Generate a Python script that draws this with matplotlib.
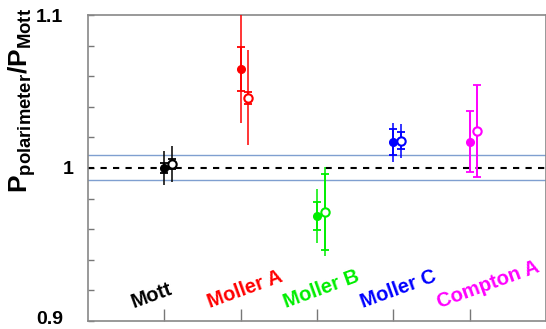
import matplotlib
matplotlib.use("Agg")
import matplotlib.pyplot as plt
from matplotlib.transforms import ScaledTranslation

categories = ["Mott", "Moller A", "Moller B", "Moller C", "Compton A"]
cat_colors = ["#000000", "#ff0000", "#00ee00", "#0000ff", "#ff00ff"]
positions = [1, 2, 3, 4, 5]

filled_vals = [1.000, 1.0647, 0.9686, 1.0168, 1.0172]
filled_stat = [0.003, 0.0145, 0.009, 0.0084, 0.020]
filled_tot = [0.011, 0.035, 0.0175, 0.0126, 0.020]

open_vals = [1.0026, 1.046, 0.9714, 1.0178, 1.0244]
open_stat = [0.003, 0.004, 0.025, 0.0056, 0.030]
open_tot = [0.0115, 0.031, 0.029, 0.011, 0.030]

band = [0.992, 1.0085]
ref_line = 1.0
ytick_vals = [0.9, 1.0, 1.1]
ytick_labels = ["0.9", "1", "1.1"]

plt.rcParams['font.family'] = ['Liberation Sans', 'DejaVu Sans']
plt.rcParams['mathtext.fontset'] = 'custom'
plt.rcParams['mathtext.bf'] = 'Liberation Sans:bold'
plt.rcParams['mathtext.rm'] = 'Liberation Sans:bold'

fig = plt.figure(figsize=(5.46, 3.29), dpi=100)
ax = fig.add_axes([88/546, 1 - 321/329, 1 - 88/546, (321 - 15)/329])
ax.set_xlim(0, 6)
ax.set_ylim(0.9, 1.1)

for v in band:
    ax.axhline(v, color="#7f9fd0", lw=1.0, zorder=1)
ax.axhline(ref_line, color="black", lw=1.5, ls=(0, (3, 3)), zorder=2)

off = 0.1
for i, p in enumerate(positions):
    c = cat_colors[i]
    # filled
    ax.errorbar(p, filled_vals[i], yerr=filled_tot[i], fmt='none', ecolor=c, elinewidth=1.3, alpha=0.85, zorder=3)
    ax.errorbar(p, filled_vals[i], yerr=filled_stat[i], fmt='none', ecolor=c, elinewidth=1.3, capsize=3, capthick=1.3, zorder=4)
    ax.plot(p, filled_vals[i], 'o', color=c, ms=5.5, zorder=5)
    # open
    po = p + off
    ax.errorbar(po, open_vals[i], yerr=open_tot[i], fmt='none', ecolor=c, elinewidth=1.3, alpha=0.85, zorder=3)
    ax.errorbar(po, open_vals[i], yerr=open_stat[i], fmt='none', ecolor=c, elinewidth=1.3, capsize=3, capthick=1.3, zorder=4)
    ax.plot(po, open_vals[i], 'o', mfc='white', mec=c, mew=1.5, ms=6, zorder=5)

for i, p in enumerate(positions):
    ax.text(p - 0.4, 0.9085, categories[i], color=cat_colors[i], fontsize=14.5, fontweight='bold',
            rotation=20, rotation_mode='anchor', ha='left', va='baseline', zorder=6)

for s in ax.spines.values():
    s.set_color("#888888")
    s.set_linewidth(1.2)

ax.set_xticks(positions)
ax.set_xticklabels([])
ax.tick_params(axis='x', direction='in', length=9, color="#777777", width=1)
ax.set_yticks(ytick_vals)
ax.set_yticklabels(ytick_labels, fontsize=14, fontweight='bold')
ax.set_yticks([0.92, 0.94, 0.96, 0.98, 1.02, 1.04, 1.06, 1.08], minor=True)
ax.tick_params(axis='y', which='both', direction='in', length=4, color="#777777", width=1, pad=18)

for t in ax.yaxis.get_major_ticks():
    loc = t.get_loc()
    if abs(loc - 1.0) < 1e-9:
        t.label1.set_transform(t.label1.get_transform() + ScaledTranslation(11/100, 0, fig.dpi_scale_trans))
    elif abs(loc - 0.9) < 1e-9:
        t.label1.set_transform(t.label1.get_transform() + ScaledTranslation(0, 3/100, fig.dpi_scale_trans))

fig.text(22/546, 1 - 8/329, r'$\mathbf{P}_{\mathbf{polarimeter}}\mathbf{/P}_{\mathbf{Mott}}$',
         rotation=90, ha='center', va='top', fontsize=19)

fig.savefig("out.png", dpi=100)
